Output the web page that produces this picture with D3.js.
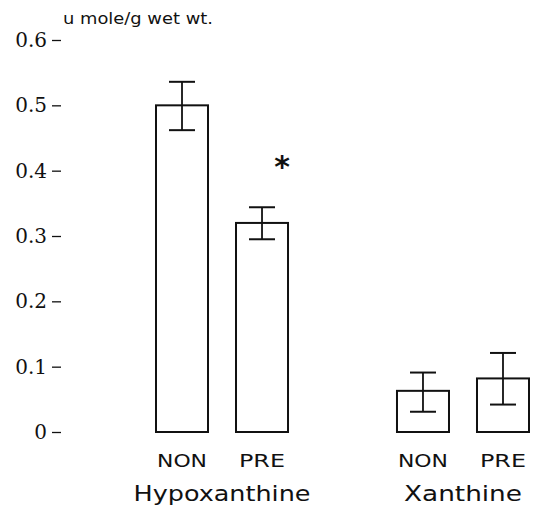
<!DOCTYPE html>
<html><head><meta charset="utf-8">
<script src="https://cdn.jsdelivr.net/npm/d3@7"></script>
<style>body{margin:0;background:#fff}</style>
</head><body>
<svg id="c" width="536" height="506"></svg>
<script>
const groups = ["Hypoxanthine", "Xanthine"];
const subgroups = ["NON", "PRE"];
const means = [[0.50, 0.32], [0.063, 0.082]];
const errLow = [[0.462, 0.295], [0.031, 0.042]];
const errHigh = [[0.536, 0.344], [0.091, 0.121]];
const significant = [[false, true], [false, false]];
const yTicks = [0, 0.1, 0.2, 0.3, 0.4, 0.5, 0.6];
const yTickLabels = ["0", "0.1", "0.2", "0.3", "0.4", "0.5", "0.6"];
const yLabel = "u mole/g wet wt.";

const svg = d3.select("#c");
const y = d3.scaleLinear().domain([0, 0.6]).range([432, 40]);
const x0 = d3.scaleBand().domain(groups).range([142, 543]).paddingInner(0.336).paddingOuter(0);
const x1 = d3.scaleBand().domain(subgroups).range([0, x0.bandwidth()]).paddingInner(0.35).paddingOuter(0.175);

const sans = "'DejaVu Sans', 'Liberation Sans', sans-serif";

// y axis: labels + dashes, no line
const yAxis = d3.axisLeft(y).tickValues(yTicks).tickFormat((d, i) => yTickLabels[i]).tickSize(9).tickPadding(5);
const ya = svg.append("g").attr("transform", "translate(61,0)").call(yAxis);
ya.select(".domain").remove();
ya.selectAll(".tick line").attr("stroke", "#111").attr("stroke-width", 1.3);
ya.selectAll(".tick text").attr("font-family", "'DejaVu Serif', serif").attr("font-size", 20).attr("fill", "#111");

svg.append("text").attr("x", 63).attr("y", 24).attr("font-family", sans)
  .attr("font-size", 16.5).attr("fill", "#111").attr("textLength", 150).attr("lengthAdjust", "spacingAndGlyphs").text(yLabel);

const subLen = {NON: 50, PRE: 46};
const groupLen = {Hypoxanthine: 177, Xanthine: 118};
const cap = 13;
groups.forEach((g, gi) => {
  const gx = x0(g);
  subgroups.forEach((s, si) => {
    const bx = gx + x1(s), bw = x1.bandwidth(), cx = bx + bw / 2;
    svg.append("rect").attr("x", bx).attr("y", y(means[gi][si])).attr("width", bw)
      .attr("height", y(0) - y(means[gi][si])).attr("fill", "#fff").attr("stroke", "#111").attr("stroke-width", 2);
    svg.append("line").attr("x1", cx).attr("x2", cx).attr("y1", y(errLow[gi][si])).attr("y2", y(errHigh[gi][si]))
      .attr("stroke", "#111").attr("stroke-width", 1.8);
    [errLow[gi][si], errHigh[gi][si]].forEach(v => {
      svg.append("line").attr("x1", cx - cap).attr("x2", cx + cap).attr("y1", y(v)).attr("y2", y(v))
        .attr("stroke", "#111").attr("stroke-width", 2);
    });
    svg.append("text").attr("x", cx).attr("y", 467).attr("text-anchor", "middle")
      .attr("font-family", sans).attr("font-size", 18.5).attr("fill", "#111")
      .attr("textLength", subLen[s]).attr("lengthAdjust", "spacingAndGlyphs").text(s);
    if (significant[gi][si]) {
      svg.append("text").attr("x", bx + bw - 6).attr("y", y(errHigh[gi][si]) - 30).attr("text-anchor", "middle")
        .attr("font-family", "'DejaVu Sans', sans-serif").attr("font-weight", "bold").attr("font-size", 30).attr("fill", "#111").text("*");
    }
  });
  svg.append("text").attr("x", gx + x0.bandwidth() / 2).attr("y", 501).attr("text-anchor", "middle")
    .attr("font-family", sans).attr("font-size", 22).attr("fill", "#111")
    .attr("textLength", groupLen[g]).attr("lengthAdjust", "spacingAndGlyphs").text(g);
});
</script>
</body></html>
